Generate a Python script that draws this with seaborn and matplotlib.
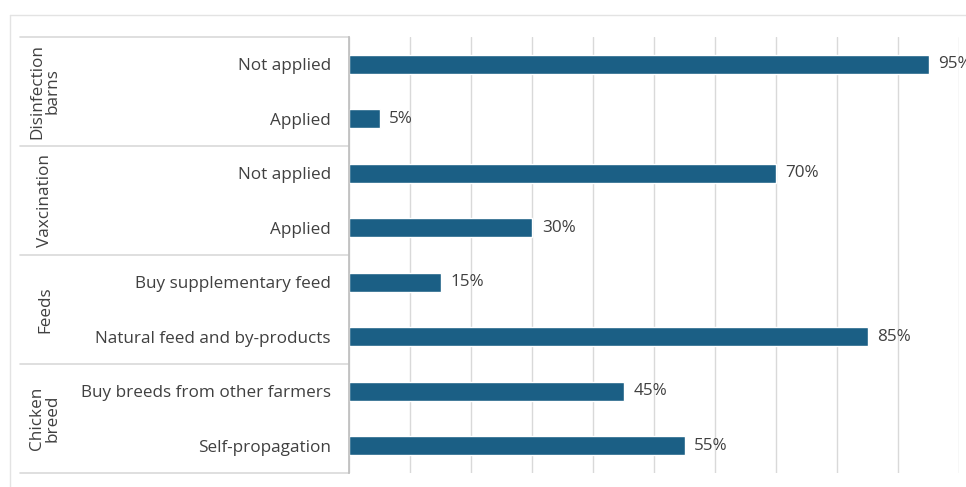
import pandas as pd
import matplotlib.pyplot as plt
import seaborn as sns
from matplotlib.lines import Line2D

# Données
groups = ["Disinfection\nbarns", "Vaxcination", "Feeds", "Chicken\nbreed"]
items = [
    ["Not applied", "Applied"],
    ["Not applied", "Applied"],
    ["Buy supplementary feed", "Natural feed and by-products"],
    ["Buy breeds from other farmers", "Self-propagation"],
]
values = [
    [95, 5],
    [70, 30],
    [15, 85],
    [45, 55],
]

rows = []
for g, its, vals in zip(groups, items, values):
    for it, v in zip(its, vals):
        rows.append({"key": g + "|" + it, "group": g, "item": it, "value": v})
df = pd.DataFrame(rows)

sns.set_theme(style="white")
plt.rcParams['font.family'] = ['Open Sans', 'DejaVu Sans']
text_color = "#404040"
bar_color = "#1b5f85"
line_color = "#d9d9d9"
fs = 12.3

fig = plt.figure(figsize=(9.66, 4.87), dpi=100)
ax = fig.add_axes([349 / 966, 1 - 473 / 487, 610 / 966, 436 / 487])

sns.barplot(data=df, y="key", x="value", orient="h", color=bar_color,
            width=0.35, ax=ax, saturation=1)

ax.set_xlim(0, 100)
ax.set_ylim(len(df) - 0.5, -0.5)
ax.set_xticks(range(0, 101, 10))
ax.set_xticklabels([])
ax.xaxis.grid(True, color=line_color, linewidth=1)
ax.set_axisbelow(True)
ax.set_xlabel("")
ax.set_ylabel("")
ax.set_yticks(range(len(df)))
ax.set_yticklabels(df["item"], fontsize=fs, color=text_color)
ax.tick_params(axis="y", length=0, pad=13)
ax.tick_params(axis="x", length=0)
for s in ["top", "right", "bottom"]:
    ax.spines[s].set_visible(False)
ax.spines["left"].set_color("#bfbfbf")

# étiquettes de valeur
ax.bar_label(ax.containers[0], labels=[f"{v}%" for v in df["value"]],
             padding=7, fontsize=fs, color=text_color, clip_on=False)

# séparateurs et noms de groupes à gauche
tr = ax.get_yaxis_transform()
x_left = (20 - 349) / 610
for b in [-0.5, 1.5, 3.5, 5.5, 7.5]:
    ax.add_line(Line2D([x_left, 0], [b, b], transform=tr, color=line_color,
                       linewidth=1.2, clip_on=False))
for i, g in enumerate(groups):
    ax.text((45 - 349) / 610, 2 * i + 0.5, g, transform=tr, rotation=90,
            ha="center", va="center", multialignment="center",
            fontsize=fs, color=text_color, linespacing=1.0)

# cadre extérieur
fig.add_artist(Line2D([10 / 966, 1], [1 - 15 / 487, 1 - 15 / 487],
                      transform=fig.transFigure, color="#e3e3e3", linewidth=1))
fig.add_artist(Line2D([10 / 966, 10 / 966], [0, 1 - 15 / 487],
                      transform=fig.transFigure, color="#e3e3e3", linewidth=1))

fig.savefig("out.png", dpi=100, facecolor="white")
